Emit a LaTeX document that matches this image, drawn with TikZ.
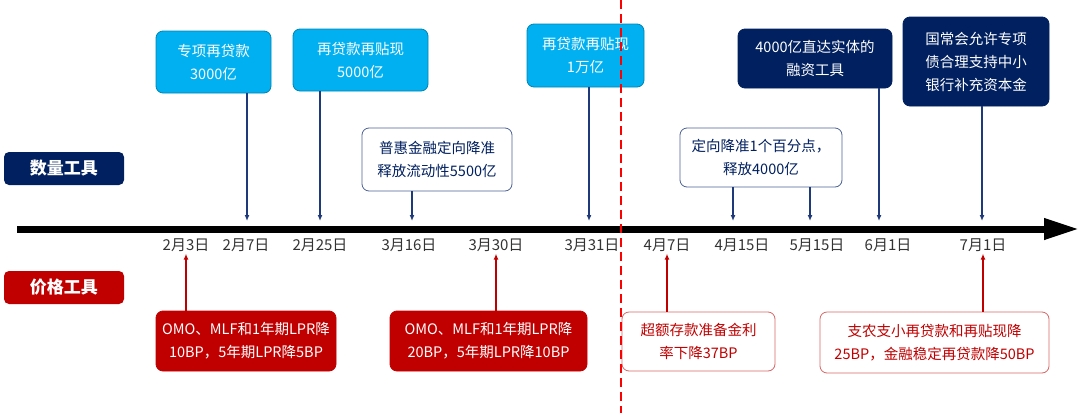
\documentclass[tikz,border=0pt]{standalone}
\usepackage{fontspec}
\setmainfont{Noto Sans CJK SC}
\usetikzlibrary{arrows.meta}
\definecolor{qcyan}{HTML}{00B0F0}
\definecolor{qnavy}{HTML}{002060}
\definecolor{qline}{HTML}{1F3A7A}
\definecolor{pred}{HTML}{C00000}
\tikzset{
  evbox/.style={rounded corners=7pt, align=center, inner sep=0pt, line width=0.8pt,
    font=\fontsize{14.5}{23}\selectfont},
  cyanbox/.style={evbox, fill=qcyan, draw=qcyan!75!black, text=white},
  navybox/.style={evbox, fill=qnavy, draw=qnavy, text=white},
  qwhite/.style={evbox, fill=white, draw=qline!80, text=qnavy},
  redbox/.style={evbox, fill=pred, draw=pred, text=white},
  pwhite/.style={evbox, fill=white, draw=pred!60, text=pred},
  kindbox/.style={rounded corners=5pt, inner sep=0pt, minimum width=120, minimum height=33,
    text=white, font=\fontsize{17}{17}\selectfont\bfseries},
  datelbl/.style={inner sep=2pt, text=black!80, font=\fontsize{15}{15}\selectfont},
  qarrow/.style={qline, line width=1.2pt, -{Latex[length=6pt,width=5pt]}},
  parrow/.style={pred, line width=1.2pt, -{Latex[length=6pt,width=5pt]}}
}
\begin{document}
\begin{tikzpicture}[x=1pt,y=-1pt]
\useasboundingbox (0,0) rectangle (1080,413);

% timeline
\coordinate (axstart) at (17,229);
\coordinate (axend) at (1079,229);
\draw[line width=7pt, -{Triangle[length=35pt,width=20pt]}] (axstart) -- (axend);

% left labels
\node[kindbox, fill=qnavy] (lq) at (64,168.5) {数量工具};
\node[kindbox, fill=pred] (lp) at (64,287.5) {价格工具};

% dates
\node[datelbl] (d0203) at (186,245) {2月3日};
\node[datelbl] (d0207) at (246,245) {2月7日};
\node[datelbl] (d0225) at (320,245) {2月25日};
\node[datelbl] (d0316) at (409,245) {3月16日};
\node[datelbl] (d0330) at (496,245) {3月30日};
\node[datelbl] (d0331) at (592,245) {3月31日};
\node[datelbl] (d0407) at (667,245) {4月7日};
\node[datelbl] (d0415) at (742,245) {4月15日};
\node[datelbl] (d0515) at (817,245) {5月15日};
\node[datelbl] (d0601) at (888,245) {6月1日};
\node[datelbl] (d0701) at (983,245) {7月1日};

% quantity tools
\node[cyanbox, minimum width=115, minimum height=62] (b1) at (213.5,62) {专项再贷款\\3000亿};
\node[cyanbox, minimum width=135, minimum height=62] (b2) at (360.5,60) {再贷款再贴现\\5000亿};
\node[qwhite, minimum width=150, minimum height=63] (b3) at (437,159.5) {普惠金融定向降准\\释放流动性5500亿};
\node[cyanbox, minimum width=117, minimum height=63] (b4) at (585.5,55.5) {再贷款再贴现\\1万亿};
\node[qwhite, minimum width=162, minimum height=59] (b5) at (761,157.5) {定向降准1个百分点，\\释放4000亿};
\node[navybox, minimum width=154, minimum height=59] (b6) at (815,58.5) {4000亿直达实体的\\融资工具};
\node[navybox, minimum width=146, minimum height=89] (b7) at (976,61.5) {国常会允许专项\\债合理支持中小\\银行补充资本金};

\coordinate (q0207) at (247,221);
\coordinate (q0225) at (320,221);
\coordinate (q0316) at (412,221);
\coordinate (q0331) at (589,221);
\coordinate (q0415) at (733,221);
\coordinate (q0515) at (810,221);
\coordinate (q0601) at (879,221);
\coordinate (q0701) at (982,221);
\draw[qarrow] (b1.south -| q0207) -- (q0207);
\draw[qarrow] (b2.south -| q0225) -- (q0225);
\draw[qarrow] (b3.south -| q0316) -- (q0316);
\draw[qarrow] (b4.south -| q0331) -- (q0331);
\draw[qarrow] (b5.south -| q0415) -- (q0415);
\draw[qarrow] (b5.south -| q0515) -- (q0515);
\draw[qarrow] (b6.south -| q0601) -- (q0601);
\draw[qarrow] (b7.south -| q0701) -- (q0701);

% price tools
\node[redbox, minimum width=180, minimum height=60] (p1) at (246,341) {OMO、MLF和1年期LPR降\\10BP，5年期LPR降5BP};
\node[redbox, minimum width=197, minimum height=60] (p2) at (488.5,341) {OMO、MLF和1年期LPR降\\20BP，5年期LPR降10BP};
\node[pwhite, minimum width=153, minimum height=59] (p3) at (698.5,341.5) {超额存款准备金利\\率下降37BP};
\node[pwhite, minimum width=229, minimum height=61] (p4) at (934.5,342.5) {支农支小再贷款和再贴现降\\25BP，金融稳定再贷款降50BP};

\draw[parrow] (p1.north -| d0203) -- (d0203.south);
\draw[parrow] (p2.north -| d0330) -- (d0330.south);
\draw[parrow] (p3.north -| d0407) -- (d0407.south);
\draw[parrow] (p4.north -| d0701) -- (d0701.south);

% split line
\coordinate (cuttop) at (621,0);
\coordinate (cutbot) at (621,413);
\draw[red, line width=2pt, dash pattern=on 9pt off 5pt] (cuttop) -- (cutbot);
\end{tikzpicture}
\end{document}
